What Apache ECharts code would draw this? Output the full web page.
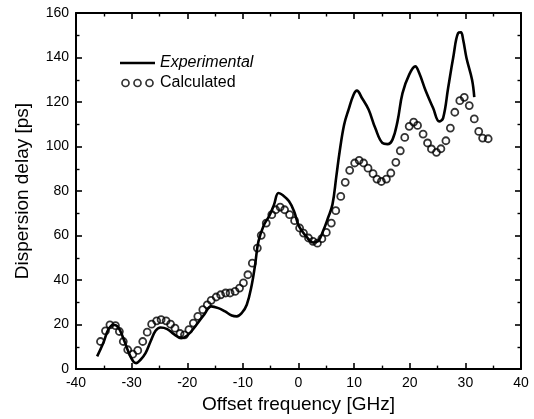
<!DOCTYPE html>
<html>
<head>
<meta charset="utf-8">
<script src="https://cdn.jsdelivr.net/npm/echarts@6/dist/echarts.min.js"></script>
<style>
html,body{margin:0;padding:0;background:#fff;}
#chart{width:534px;height:419px;}
</style>
</head>
<body>
<div id="chart"></div>
<script>
// Experimental curve: [frequency GHz, delay ps]
var experimental = [
  [-36.2,5.7],[-35.1,11.7],[-34.2,17.7],[-33.3,19.9],[-32.4,18.7],[-31.5,13.9],[-30.6,7.9],
  [-29.7,3.4],[-29.2,2.7],[-28.4,4.2],[-27.5,7.2],[-26.6,12.4],[-25.7,17.2],[-24.8,18.7],
  [-23.6,18.0],[-22.4,15.7],[-21.1,13.9],[-20.2,14.7],[-19.3,16.9],[-18.1,20.7],[-16.9,24.7],
  [-15.7,28.2],[-14.4,27.4],[-13.2,25.9],[-12.0,24.1],[-11.1,23.7],[-10.2,25.2],[-9.3,28.9],
  [-8.4,37.9],[-7.8,46.9],[-7.2,57.4],[-6.2,64.9],[-5.3,68.6],[-4.4,73.9],[-3.6,79.1],
  [-2.8,78.1],[-1.7,75.4],[-0.8,70.9],[0.1,64.1],[1.4,59.6],[2.6,56.9],[3.5,57.4],[4.4,61.9],
  [5.3,67.9],[6.1,73.9],[6.8,86.6],[7.4,97.8],[8.2,109.8],[9.0,116.6],[9.9,123.3],[10.5,125.1],
  [11.4,121.8],[12.6,116.6],[13.8,108.3],[15.1,101.6],[16.0,101.1],[16.9,103.1],[17.8,111.3],
  [18.7,124.0],[19.9,132.3],[21.0,136.0],[21.7,133.0],[22.9,124.8],[24.2,117.3],[25.3,111.3],
  [26.0,112.8],[26.9,126.3],[27.8,139.8],[28.7,151.0],[29.2,151.3],[29.6,148.0],[30.2,139.8],
  [31.2,130.0],[31.6,122.2]
];
// Calculated points: [frequency GHz, delay ps]
var calculated = [
  [-35.6,12.4],[-34.7,17.2],[-33.9,19.9],[-32.9,19.5],[-32.2,16.9],[-31.5,12.4],[-30.7,8.7],
  [-29.8,6.7],[-28.9,8.4],[-28.0,12.4],[-27.2,16.6],[-26.4,20.2],[-25.5,21.7],[-24.7,22.2],
  [-23.8,21.7],[-23.0,20.2],[-22.2,18.4],[-21.3,16.0],[-20.5,15.4],[-19.7,17.7],[-18.9,20.7],
  [-18.1,23.7],[-17.2,26.7],[-16.4,28.9],[-15.7,30.9],[-14.8,32.4],[-14.0,33.4],[-13.1,34.2],
  [-12.3,34.2],[-11.4,34.9],[-10.6,36.4],[-9.9,38.7],[-9.1,42.4],[-8.3,47.6],[-7.4,54.4],
  [-6.7,60.1],[-5.8,65.6],[-4.8,69.4],[-4.1,71.6],[-3.3,72.8],[-2.5,71.6],[-1.6,69.4],
  [-0.7,66.7],[0.2,63.4],[0.9,61.1],[1.8,58.9],[2.6,57.4],[3.4,56.6],[4.2,58.6],[5.0,61.4],
  [5.9,65.6],[6.7,71.2],[7.6,77.6],[8.4,83.9],[9.2,89.3],[10.1,92.6],[10.9,93.8],[11.7,92.6],
  [12.5,90.3],[13.4,87.8],[14.1,85.4],[14.9,84.3],[15.8,85.4],[16.6,88.1],[17.5,92.9],
  [18.3,98.1],[19.1,104.1],[19.9,109.1],[20.7,111.0],[21.4,109.5],[22.4,105.6],[23.2,101.6],
  [23.9,98.9],[24.8,97.4],[25.6,99.0],[26.5,102.6],[27.3,108.3],[28.1,115.4],[29.0,120.6],
  [29.8,122.1],[30.7,118.4],[31.6,112.4],[32.4,106.8],[33.1,103.8],[34.1,103.5]
];
var seriesNames = ['Experimental', 'Calculated'];
var xLabelTitle = 'Offset frequency [GHz]';
var yLabelTitle = 'Dispersion delay [ps]';

var FONT = '"Liberation Sans", Arial, Helvetica, sans-serif';
var chart = echarts.init(document.getElementById('chart'), null, {renderer:'canvas'});

function axisCommon(showLabel){
  return {
    axisLine:{show:true, onZero:false, lineStyle:{color:'#000', width:2}},
    axisTick:{show:true, inside:true, length:6, lineStyle:{color:'#000', width:1.6}},
    minorTick:{show:true, splitNumber:2, length:3.5, lineStyle:{color:'#000', width:1.4}},
    splitLine:{show:false},
    axisLabel:{show:showLabel, color:'#000', fontSize:14, fontFamily:FONT, margin:7}
  };
}

var option = {
  backgroundColor:'#fff',
  animation:false,
  grid:{left:76, right:13, top:13, bottom:47, containLabel:false},
  legend:{
    orient:'vertical', left:115, top:50, itemWidth:35, itemHeight:7, itemGap:4,
    selectedMode:false,
    formatter:function(n){ return n === seriesNames[0] ? '{it|' + n + '}' : '{n|' + n + '}'; },
    textStyle:{color:'#000', fontFamily:FONT, fontSize:16,
      rich:{it:{fontStyle:'italic', fontSize:16, fontFamily:FONT, color:'#000'},
            n:{fontSize:16, fontFamily:FONT, color:'#000'}}},
    data:[
      {name:seriesNames[0], icon:'path://M0,0H35V2.6H0Z', itemStyle:{color:'#000', borderWidth:0}},
      {name:seriesNames[1], icon:'path://M0,3.5a3.5,3.5 0 1,0 7,0a3.5,3.5 0 1,0 -7,0M12,3.5a3.5,3.5 0 1,0 7,0a3.5,3.5 0 1,0 -7,0M24,3.5a3.5,3.5 0 1,0 7,0a3.5,3.5 0 1,0 -7,0',
        itemStyle:{color:'transparent', borderColor:'#000', borderWidth:1.7}}
    ]
  },
  xAxis:[
    Object.assign({type:'value', position:'bottom', min:-40, max:40, interval:10,
      name:xLabelTitle, nameLocation:'middle', nameGap:22,
      nameTextStyle:{color:'#000', fontSize:19, fontFamily:FONT}}, axisCommon(true)),
    Object.assign({type:'value', position:'top', min:-40, max:40, interval:10}, axisCommon(false))
  ],
  yAxis:[
    Object.assign({type:'value', position:'left', min:0, max:160, interval:20,
      name:yLabelTitle, nameLocation:'middle', nameGap:44,
      nameTextStyle:{color:'#000', fontSize:19, fontFamily:FONT}}, axisCommon(true)),
    Object.assign({type:'value', position:'right', min:0, max:160, interval:20}, axisCommon(false))
  ],
  series:[
    {name:seriesNames[0], type:'line', data:experimental, smooth:0.4, symbol:'none',
      lineStyle:{color:'#000', width:2.6}, itemStyle:{color:'#000'}, z:2},
    {name:seriesNames[1], type:'scatter', data:calculated, symbol:'circle', symbolSize:7,
      itemStyle:{color:'transparent', borderColor:'#000', borderWidth:1.8}, z:3}
  ]
};
chart.setOption(option);
</script>
</body>
</html>
